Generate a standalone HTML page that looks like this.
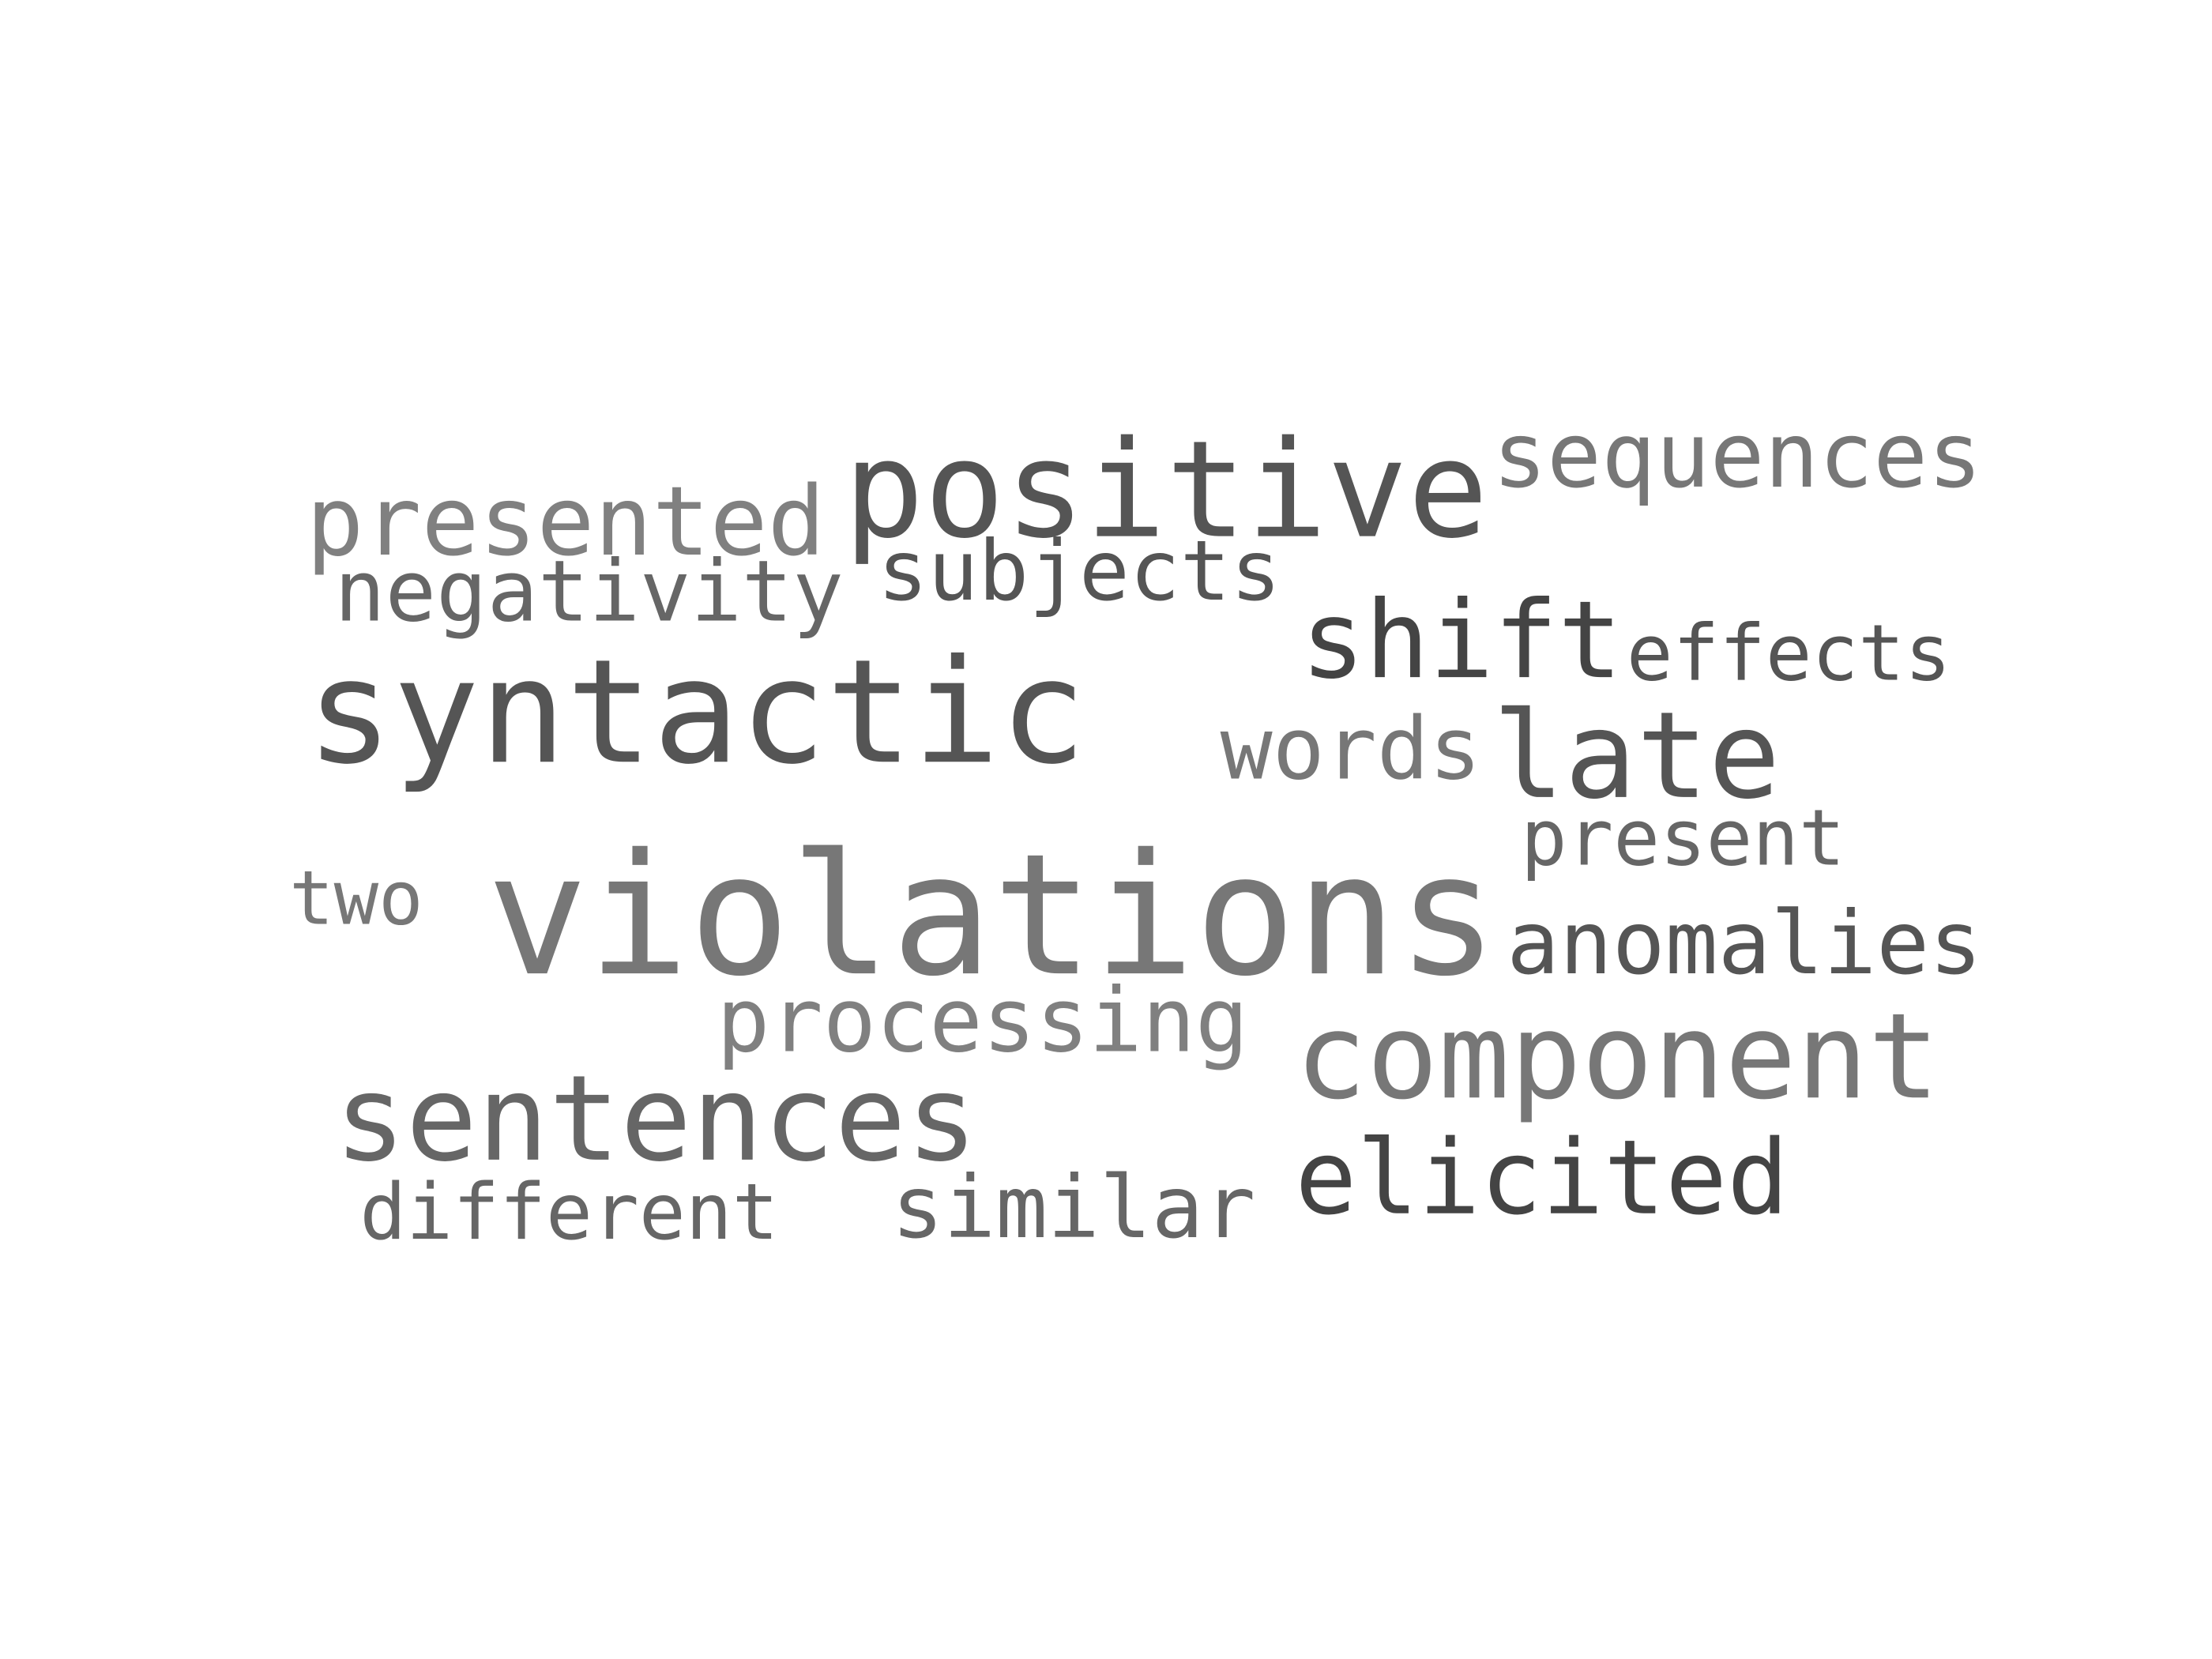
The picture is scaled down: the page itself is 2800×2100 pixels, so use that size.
<!DOCTYPE html>
<html><head><meta charset="utf-8"><style>html,body{margin:0;padding:0;background:#fff}svg{display:block}</style></head>
<body>
<svg width="2800" height="2100" viewBox="0 0 1568 1176" xmlns="http://www.w3.org/2000/svg" font-family="'DejaVu Sans Mono', 'Liberation Mono', monospace">
<rect width="1568" height="1176" fill="#fff"/>
<text x="598" y="380" font-size="95" fill="#555" textLength="457" lengthAdjust="spacingAndGlyphs">positive</text>
<text x="1058" y="345" font-size="64" fill="#777" textLength="347" lengthAdjust="spacingAndGlyphs">sequences</text>
<text x="217" y="393" font-size="68" fill="#808080" textLength="368" lengthAdjust="spacingAndGlyphs">presented</text>
<text x="237" y="440" font-size="60" fill="#666" textLength="361" lengthAdjust="spacingAndGlyphs">negativity</text>
<text x="622" y="425" font-size="59" fill="#555" textLength="286" lengthAdjust="spacingAndGlyphs">subjects</text>
<text x="922" y="480" font-size="76" fill="#444" textLength="228" lengthAdjust="spacingAndGlyphs">shift</text>
<text x="1153" y="482" font-size="55" fill="#555" textLength="230" lengthAdjust="spacingAndGlyphs">effects</text>
<text x="217" y="540" font-size="102" fill="#555" textLength="553" lengthAdjust="spacingAndGlyphs">syntactic</text>
<text x="865" y="552" font-size="61" fill="#777" textLength="185" lengthAdjust="spacingAndGlyphs">words</text>
<text x="1058" y="565" font-size="85" fill="#555" textLength="204" lengthAdjust="spacingAndGlyphs">late</text>
<text x="1078" y="613" font-size="55" fill="#666" textLength="230" lengthAdjust="spacingAndGlyphs">present</text>
<text x="205" y="655" font-size="53" fill="#777" textLength="95" lengthAdjust="spacingAndGlyphs">two</text>
<text x="345" y="690" font-size="119" fill="#777" textLength="717" lengthAdjust="spacingAndGlyphs">violations</text>
<text x="1068" y="690" font-size="62" fill="#555" textLength="337" lengthAdjust="spacingAndGlyphs">anomalies</text>
<text x="508" y="745" font-size="63" fill="#808080" textLength="377" lengthAdjust="spacingAndGlyphs">processing</text>
<text x="918" y="778" font-size="84" fill="#777" textLength="457" lengthAdjust="spacingAndGlyphs">component</text>
<text x="237" y="822" font-size="84" fill="#666" textLength="456" lengthAdjust="spacingAndGlyphs">sentences</text>
<text x="918" y="860" font-size="73" fill="#444" textLength="350" lengthAdjust="spacingAndGlyphs">elicited</text>
<text x="255" y="878" font-size="55" fill="#666" textLength="297" lengthAdjust="spacingAndGlyphs">different</text>
<text x="632" y="877" font-size="61" fill="#666" textLength="258" lengthAdjust="spacingAndGlyphs">similar</text>
</svg>
</body></html>
